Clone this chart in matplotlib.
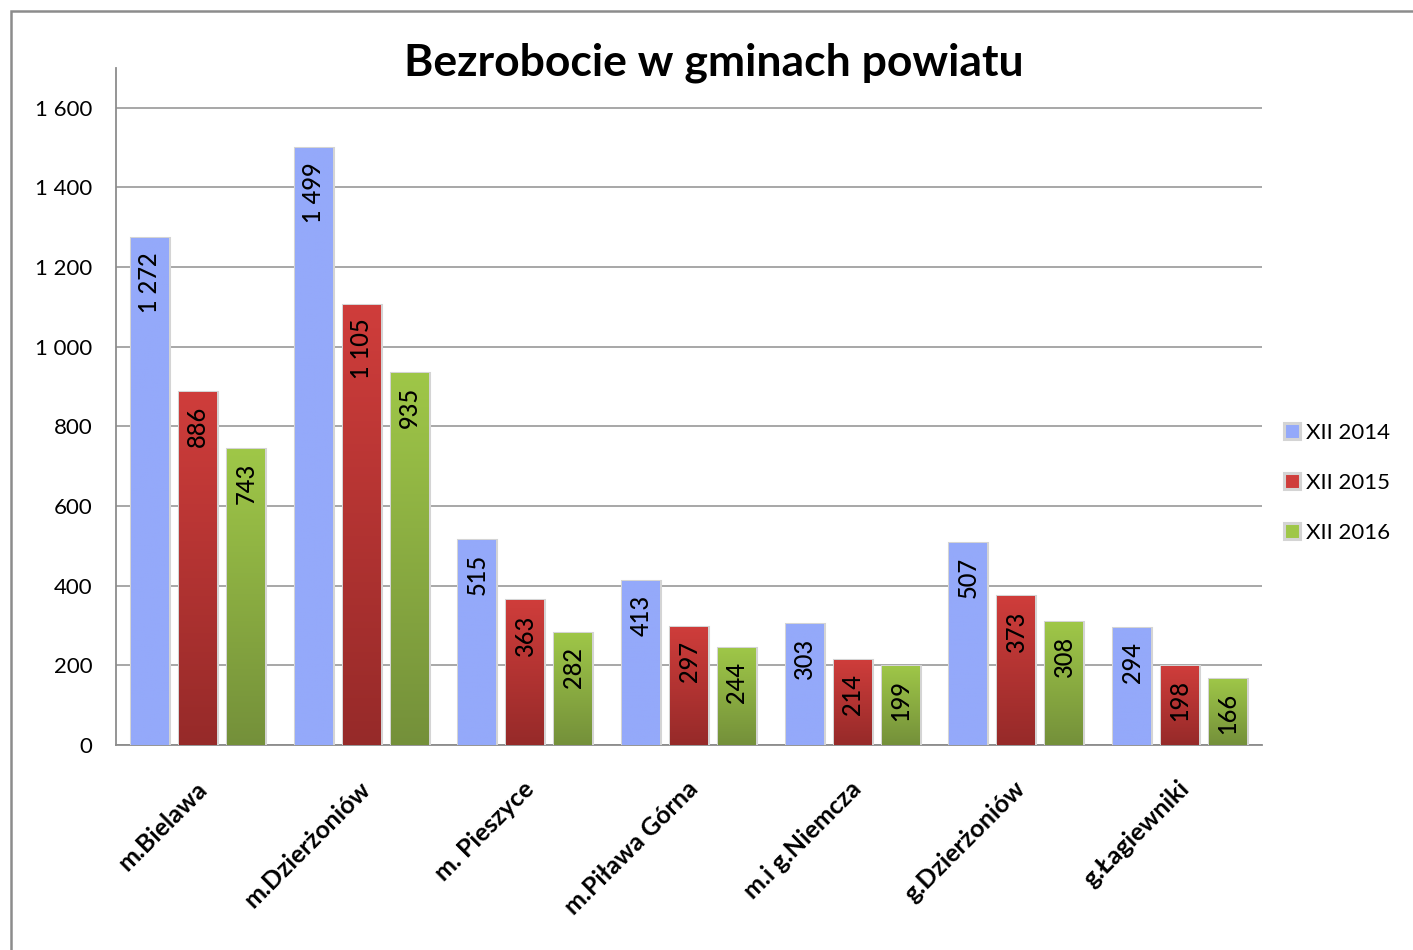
import matplotlib
matplotlib.use("Agg")
import matplotlib.pyplot as plt
import numpy as np
from matplotlib.patches import Rectangle
from matplotlib.colors import LinearSegmentedColormap

plt.rcParams['font.family'] = ['Lato', 'DejaVu Sans']

# data
gminy = ["m.Bielawa", "m.Dzierżoniów", "m. Pieszyce", "m.Piława Górna",
         "m.i g.Niemcza", "g.Dzierżoniów", "g.Łagiewniki"]
serie = ["XII 2014", "XII 2015", "XII 2016"]
xii_2014 = [1272, 1499, 515, 413, 303, 507, 294]
xii_2015 = [886, 1105, 363, 297, 214, 373, 198]
xii_2016 = [743, 935, 282, 244, 199, 308, 166]
y_ticks = [0, 200, 400, 600, 800, 1000, 1200, 1400, 1600]

# top / bottom colour of each series (gradient like excel)
kolory = [("#94a9fa", "#94a9fa"), ("#cf3d3b", "#962a29"), ("#9fc748", "#74903a")]


def fmt(v):
    # polish thousands separator (space)
    return "{:,}".format(int(v)).replace(",", " ")


fig = plt.figure(figsize=(14.13, 9.5), dpi=100)
ax = fig.add_axes([116 / 1413, 205 / 950, (1262 - 116) / 1413, (745 - 68) / 950])

x = np.arange(len(gminy))
szer = 0.232
krok = 0.293

for k, (vals, name) in enumerate(zip([xii_2014, xii_2015, xii_2016], serie)):
    top, bot = kolory[k]
    cmap = LinearSegmentedColormap.from_list("g%d" % k, [bot, top])
    bars = ax.bar(x + (k - 1) * krok, vals, szer, color=top, edgecolor="#d4d4d4",
                  linewidth=2.2, zorder=3, label=name)
    for b, v in zip(bars, vals):
        x0, w, h = b.get_x(), b.get_width(), b.get_height()
        grad = np.linspace(0, 1, 256).reshape(-1, 1)
        im = ax.imshow(grad, cmap=cmap, origin="lower", aspect="auto",
                       extent=[x0, x0 + w, 0, h], zorder=3.5)
        im.set_clip_path(b)
        ax.annotate(fmt(v), (x0 + w / 2, h), xytext=(0, -10), textcoords="offset points",
                    rotation=90, ha="center", va="top", fontsize=17, color="black",
                    fontweight="medium", zorder=5)

ax.set_xlim(-0.5, len(gminy) - 0.5)
ax.set_ylim(0, 1700)
ax.set_yticks(y_ticks)
ax.set_yticklabels([fmt(t) for t in y_ticks], fontsize=16)
ax.yaxis.grid(True, color="#a0a0a0", linewidth=1.3, zorder=0)
ax.set_axisbelow(True)
ax.tick_params(axis="y", length=0, pad=17)
ax.tick_params(axis="x", length=0)
ax.set_xticks(x)
ax.set_xticklabels(gminy, rotation=45, ha="right", va="top", rotation_mode="anchor",
                   fontsize=18, fontweight="bold")
for lab in ax.get_xticklabels():
    lab.set_transform(lab.get_transform() + matplotlib.transforms.ScaledTranslation(
        -0.03, -0.27, fig.dpi_scale_trans))
ax.spines["top"].set_visible(False)
ax.spines["right"].set_visible(False)
for s in ["left", "bottom"]:
    ax.spines[s].set_color("#8c8c8c")
    ax.spines[s].set_linewidth(1.3)

fig.text(714 / 1413, 1 - 63 / 950, "Bezrobocie w gminach powiatu", ha="center",
         va="center", fontsize=32, fontweight="bold")

leg = ax.legend(loc="center left", bbox_to_anchor=(1264 / 1413, 1 - 483 / 950),
                bbox_transform=fig.transFigure, frameon=False, fontsize=16,
                handlelength=0.7, handleheight=0.7, handletextpad=0.3, labelspacing=1.35)

# chart frame (cropped on the right and bottom)
fig.patches.append(Rectangle((11 / 1413, -0.1), 1.2, 1.1 - 11 / 950,
                             transform=fig.transFigure, fill=False,
                             edgecolor="#8c8c8c", linewidth=1.8))

fig.savefig("out.png", dpi=100)
